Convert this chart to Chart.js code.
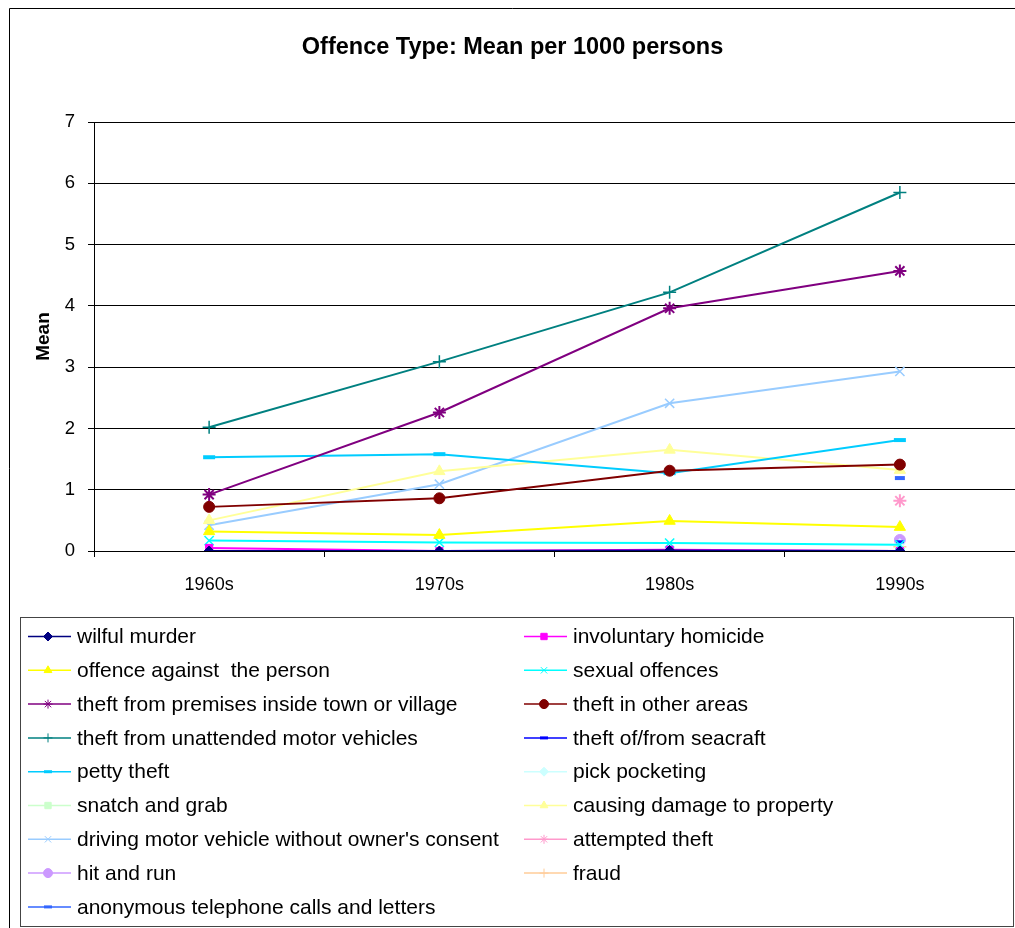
<!DOCTYPE html>
<html>
<head>
<meta charset="utf-8">
<script src="https://cdn.jsdelivr.net/npm/chart.js@4"></script>
<style>
  html, body { margin: 0; padding: 0; background: #fff; }
  #wrap { width: 1015px; height: 928px; position: relative; }
</style>
</head>
<body>
<div id="wrap"><canvas id="offenceChart" width="1015" height="928"></canvas></div>
<script>
const decades = ["1960s", "1970s", "1980s", "1990s"];

const wilfulMurder = [0.0, 0.0, 0.01, 0.0];
const involuntaryHomicide = [0.05, 0.0, 0.02, 0.0];
const offenceAgainstPerson = [0.32, 0.26, 0.49, 0.39];
const sexualOffences = [0.17, 0.14, 0.13, 0.1];
const theftPremises = [0.92, 2.26, 3.96, 4.57];
const theftOtherAreas = [0.72, 0.86, 1.31, 1.41];
const theftMotorVehicles = [2.02, 3.09, 4.22, 5.85];
const theftSeacraft = [null, null, null, 0.15];
const pettyTheft = [1.53, 1.58, 1.27, 1.81];
const pickPocketing = [null, null, null, 0.12];
const snatchAndGrab = [null, null, null, 0.03];
const causingDamage = [0.5, 1.3, 1.65, 1.32];
const drivingWithoutConsent = [0.42, 1.09, 2.41, 2.93];
const attemptedTheft = [null, null, null, 0.82];
const hitAndRun = [null, null, null, 0.18];
const fraud = [null, null, null, 0.07];
const anonymousCalls = [null, null, null, 1.19];

function series(label, data, color, style, radius, bw) {
    return {
        label, data,
        borderColor: color,
        backgroundColor: color,
        borderWidth: 2,
        pointStyle: style,
        pointRadius: radius,
        pointBorderWidth: bw,
        pointBorderColor: color,
        pointBackgroundColor: color,
        spanGaps: false,
        tension: 0
    };
}

const datasets = [
    series("wilful murder", wilfulMurder, "#000080", "rectRot", 5, 1),
    series("involuntary homicide", involuntaryHomicide, "#FF00FF", "rect", 5, 1),
    series("offence against  the person", offenceAgainstPerson, "#FFFF00", "triangle", 6.5, 1),
    series("sexual offences", sexualOffences, "#00FFFF", "crossRot", 6.5, 1.5),
    series("theft from premises inside town or village", theftPremises, "#800080", "star", 6.5, 2),
    series("theft in other areas", theftOtherAreas, "#800000", "circle", 5.5, 1),
    series("theft from unattended motor vehicles", theftMotorVehicles, "#008080", "cross", 6.5, 1.5),
    series("theft of/from seacraft", theftSeacraft, "#0000FF", "line", 4, 3),
    series("petty theft", pettyTheft, "#00CCFF", "line", 6, 4),
    series("pick pocketing", pickPocketing, "#CCFFFF", "rectRot", 5, 1),
    series("snatch and grab", snatchAndGrab, "#CCFFCC", "rect", 5, 1),
    series("causing damage to property", causingDamage, "#FFFF99", "triangle", 6.5, 1),
    series("driving motor vehicle without owner's consent", drivingWithoutConsent, "#99CCFF", "crossRot", 6.5, 1.5),
    series("attempted theft", attemptedTheft, "#FF99CC", "star", 6.5, 2),
    series("hit and run", hitAndRun, "#CC99FF", "circle", 5.5, 1),
    series("fraud", fraud, "#FFCC99", "cross", 6.5, 1.5),
    series("anonymous telephone calls and letters", anonymousCalls, "#3366FF", "line", 5, 4)
];

// frame round the chart plus the two-column legend box underneath
const frameAndLegend = {
    id: "frameAndLegend",
    afterDraw(chart) {
        const ctx = chart.ctx;
        ctx.save();
        ctx.strokeStyle = "#000";
        ctx.lineWidth = 1;
        ctx.beginPath();
        ctx.moveTo(9.5, 928);
        ctx.lineTo(9.5, 8.5);
        ctx.lineTo(1015, 8.5);
        ctx.stroke();

        ctx.strokeStyle = "#444";
        ctx.strokeRect(20.5, 617.5, 993, 309);

        ctx.font = "21px 'Liberation Sans', Arial, sans-serif";
        ctx.textBaseline = "middle";
        ctx.textAlign = "left";
        chart.data.datasets.forEach((ds, i) => {
            const col = i % 2;
            const row = Math.floor(i / 2);
            const x0 = col === 0 ? 28 : 524;
            const y = 636.5 + row * 33.8;
            ctx.strokeStyle = ds.borderColor;
            ctx.fillStyle = ds.borderColor;
            ctx.lineWidth = 1.5;
            ctx.beginPath();
            ctx.moveTo(x0, y);
            ctx.lineTo(x0 + 43, y);
            ctx.stroke();
            ctx.lineWidth = ds.pointStyle === "line" ? 3 : 1;
            Chart.helpers.drawPoint(ctx, {
                pointStyle: ds.pointStyle,
                radius: ds.pointStyle === "line" ? 4 : 4.5,
                rotation: 0,
                borderWidth: ctx.lineWidth
            }, x0 + 20, y);
            ctx.fillStyle = "#000";
            ctx.fillText(ds.label, x0 + 49, y + 1);
        });
        ctx.restore();
    }
};

new Chart(document.getElementById("offenceChart"), {
    type: "line",
    data: { labels: decades, datasets },
    plugins: [frameAndLegend],
    options: {
        responsive: false,
        animation: false,
        events: [],
        layout: { autoPadding: false, padding: { top: 0, left: 10, right: 0, bottom: 317 } },
        plugins: {
            legend: { display: false },
            tooltip: { enabled: false },
            title: {
                display: true,
                text: "Offence Type: Mean per 1000 persons",
                color: "#000",
                font: { family: "'Liberation Sans', Arial, sans-serif", size: 23.5, weight: "bold", lineHeight: 1.2 },
                padding: { top: 33, bottom: 60.8 }
            }
        },
        scales: {
            x: {
                offset: true,
                afterFit(scale) {
                    scale.height = 60;
                    scale.paddingLeft = 0;
                    scale.paddingRight = 0;
                },
                grid: { offset: true, drawOnChartArea: false, drawTicks: true, tickLength: 6, tickColor: "#000" },
                border: { color: "#000", width: 1 },
                ticks: {
                    color: "#000", padding: 17,
                    font: { family: "'Liberation Sans', Arial, sans-serif", size: 18 }
                }
            },
            y: {
                min: 0, max: 7,
                afterFit(scale) { scale.width = 84; },
                grid: { color: "#000", lineWidth: 1, drawTicks: true, tickLength: 6, tickColor: "#000" },
                border: { color: "#000", width: 1 },
                ticks: {
                    stepSize: 1, color: "#000", padding: 13,
                    font: { family: "'Liberation Sans', Arial, sans-serif", size: 18.5 }
                },
                title: {
                    display: true, text: "Mean", color: "#000",
                    font: { family: "'Liberation Sans', Arial, sans-serif", size: 19, weight: "bold" },
                    padding: { top: 22, bottom: 0 }
                }
            }
        }
    }
});
</script>
</body>
</html>
